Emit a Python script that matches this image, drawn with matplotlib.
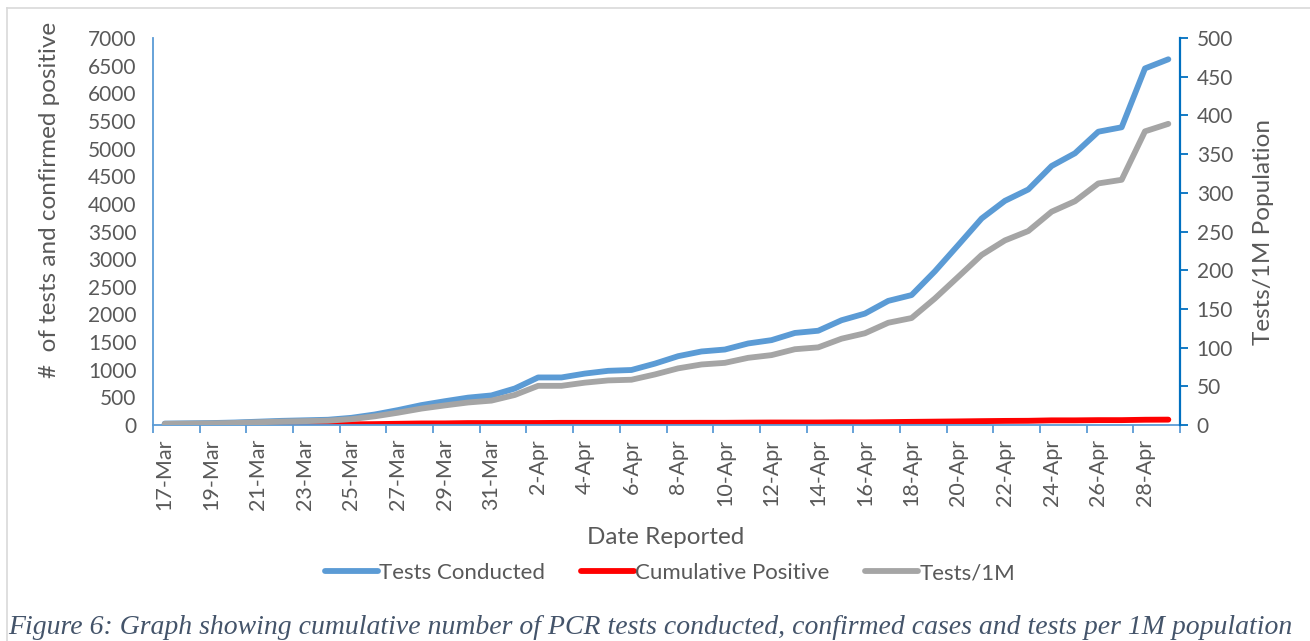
import matplotlib
matplotlib.use("Agg")
import matplotlib.pyplot as plt
from matplotlib.lines import Line2D

# dates reported, 17-Mar .. 29-Apr
dates = ([f"{d}-Mar" for d in range(17, 32)] +
         [f"{d}-Apr" for d in range(1, 30)])

tests_conducted = [25, 30, 35, 45, 60, 75, 85, 95, 130, 190, 270, 360, 430, 495,
                   535, 660, 860, 860, 930, 980, 995, 1110, 1245, 1330, 1365,
                   1475, 1535, 1665, 1705, 1895, 2015, 2245, 2350, 2780, 3255,
                   3735, 4055, 4260, 4685, 4915, 5305, 5385, 6450, 6615]

cumulative_positive = [0, 2, 2, 2, 2, 3, 3, 3, 12, 16, 22, 28, 29, 35, 35, 36,
                       36, 39, 39, 39, 39, 39, 39, 40, 40, 43, 45, 45, 45, 48,
                       48, 52, 57, 61, 65, 70, 74, 76, 84, 84, 88, 88, 95, 97]

tests_per_1m = [1.5, 1.8, 2.1, 2.6, 3.5, 4.4, 5.0, 5.6, 7.6, 11.2, 15.9, 21.2,
                25.3, 29.1, 31.5, 38.8, 50.6, 50.6, 54.7, 57.6, 58.5, 65.3,
                73.2, 78.2, 80.3, 86.8, 90.3, 97.9, 100.3, 111.5, 118.5, 132.1,
                138.2, 163.5, 191.5, 219.7, 238.5, 250.6, 275.6, 289.1, 312.1,
                316.8, 379.4, 389.1]

left_ticks = list(range(0, 7001, 500))
right_ticks = list(range(0, 501, 50))

BLUE = "#5B9BD5"
RED = "#FF0000"
GREY = "#A5A5A5"
TXT = "#595959"

plt.rcParams["font.family"] = ["Lato", "DejaVu Sans"]

W, H = 1310, 641
fig = plt.figure(figsize=(W / 100, H / 100), dpi=100)
ax = fig.add_axes([153 / W, 1 - 425 / H, (1180 - 153) / W, (425 - 38) / H])
ax2 = ax.twinx()

x = list(range(len(dates)))
kw = dict(lw=4.2, solid_capstyle="round", solid_joinstyle="round")
l1, = ax.plot(x, tests_conducted, color=BLUE, label="Tests Conducted", **kw)
l2, = ax.plot(x, cumulative_positive, color=RED, label="Cumulative Positive", **kw)
l3, = ax2.plot(x, tests_per_1m, color=GREY, label="Tests/1M", **kw)

n = len(dates)
ax.set_xlim(-0.5, n - 0.5)
ax.set_ylim(0, 7000)
ax2.set_ylim(0, 500)

ax.set_yticks(left_ticks)
ax.tick_params(axis="y", length=0, labelsize=15, labelcolor=TXT, pad=12)
ax2.set_yticks(right_ticks)
ax2.tick_params(axis="y", length=6, width=1.3, color="#0070C0", labelsize=15,
                labelcolor=TXT, pad=6)

# labels every second day, tick marks on category boundaries
ax.set_xticks(x[::2])
ax.set_xticklabels(dates[::2], rotation=90, fontsize=15.5, color=TXT)
ax.tick_params(axis="x", length=0, pad=10)
ax.set_xticks([i - 0.5 for i in range(0, n + 1, 2)], minor=True)
ax.tick_params(axis="x", which="minor", length=6, width=1.3, color=BLUE)

for a in (ax, ax2):
    a.spines["top"].set_visible(False)
ax.spines["right"].set_visible(False)
ax2.spines["left"].set_visible(False)
ax2.spines["bottom"].set_visible(False)
ax.spines["left"].set_color(BLUE)
ax.spines["left"].set_linewidth(1.3)
ax.spines["bottom"].set_color(BLUE)
ax.spines["bottom"].set_linewidth(1.3)
ax2.spines["right"].set_color("#0070C0")
ax2.spines["right"].set_linewidth(1.6)

fig.text(50 / W, 1 - 200 / H, "#  of tests and confirmed positive", rotation=90,
         ha="center", va="center", fontsize=17.5, color=TXT)
fig.text(1263 / W, 1 - 232 / H, "Tests/1M Population", rotation=90,
         ha="center", va="center", fontsize=17.5, color=TXT)
fig.text(666 / W, 1 - 538 / H, "Date Reported", ha="center", va="center",
         fontsize=17.5, color=TXT)

fig.legend(handles=[l1, l2, l3], loc="center", bbox_to_anchor=(670 / W, 1 - 573 / H),
           ncol=3, frameon=False, fontsize=16, handlelength=2.4,
           handletextpad=0.05, columnspacing=1.6, labelcolor=TXT)

# chart area frame
fig.add_artist(Line2D([7 / W, 1], [1 - 8 / H, 1 - 8 / H], color="#D9D9D9", lw=1.2))
fig.add_artist(Line2D([7 / W, 7 / W], [0, 1 - 8 / H], color="#D9D9D9", lw=1.2))

fig.text(8 / W, 1.5 / H,
         "Figure 6: Graph showing cumulative number of PCR tests conducted, "
         "confirmed cases and tests per 1M population",
         ha="left", va="bottom", fontsize=20, style="italic", color="#44546A",
         family=["Liberation Serif", "DejaVu Serif"])

fig.savefig("out.png", dpi=100)
